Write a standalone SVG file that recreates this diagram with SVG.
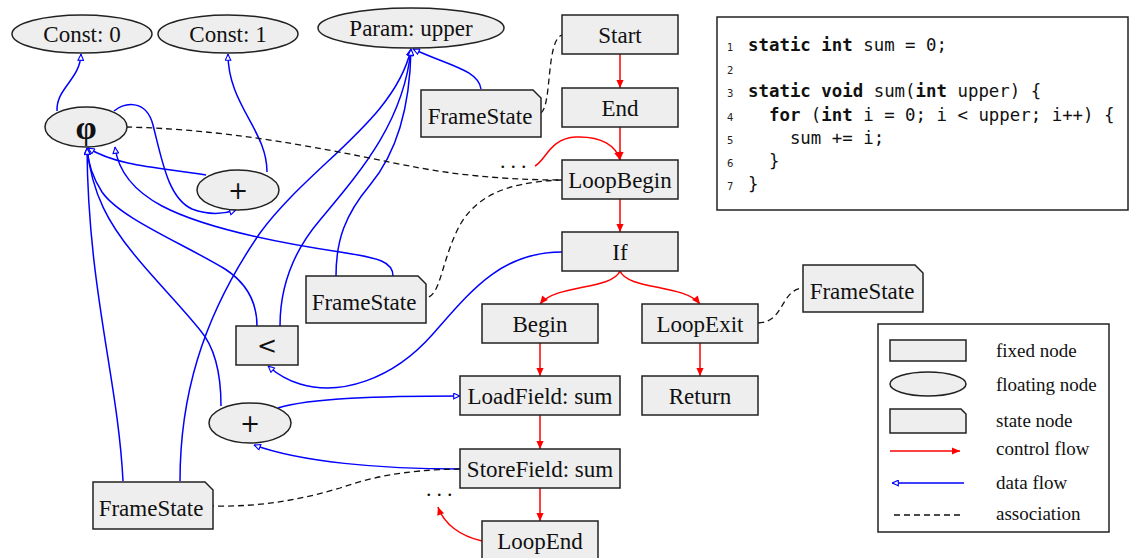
<svg xmlns="http://www.w3.org/2000/svg" width="1131" height="558" viewBox="0 0 1131 558">
<style>
.n{fill:#eeeeee;stroke:#222;stroke-width:1.5}
.t{font-family:"Liberation Serif","Times New Roman",serif;font-size:23px;fill:#111;text-anchor:middle}
.op{font-family:"DejaVu Sans","Liberation Sans",sans-serif;font-size:24px;fill:#111;text-anchor:middle}
.lt{font-family:"Liberation Serif","Times New Roman",serif;font-size:19px;fill:#111}
.c{fill:none;stroke:#ff0000;stroke-width:1.5;marker-end:url(#ctl)}
.d{fill:none;stroke:#0000ff;stroke-width:1.5;marker-end:url(#dat)}
.a{fill:none;stroke:#111;stroke-width:1.3;stroke-dasharray:6 4}
.code{font-family:"DejaVu Sans Mono","Liberation Mono",monospace;font-size:17.4px;fill:#111}
.ln{font-family:"DejaVu Sans",sans-serif;font-size:10px;fill:#222}
.k{font-weight:bold}
.dots{font-family:"Liberation Serif",serif;font-size:22px;fill:#111;letter-spacing:5px}
</style>
<defs>
<marker id="ctl" viewBox="0 0 10 10" refX="10" refY="5" markerWidth="9" markerHeight="8" orient="auto" markerUnits="userSpaceOnUse"><path d="M0,0.5 L10,5 L0,9.5 z" fill="#ff0000"/></marker>
<marker id="dat" viewBox="0 0 10 10" refX="10" refY="5" markerWidth="8" markerHeight="7" orient="auto" markerUnits="userSpaceOnUse"><path d="M1,1 L9.5,5 L1,9 z" fill="#fff" stroke="#0000ff" stroke-width="1.6"/></marker>
</defs>

<g id="connectors">
<!-- control flow -->
<path class="c" d="M620,54 L620,88"/>
<path class="c" d="M620,127 L620,160"/>
<path class="c" d="M620,199 L620,232"/>
<path class="c" d="M620,271 C612,290 556,284 540,304"/>
<path class="c" d="M620,271 C628,290 684,284 700,304"/>
<path class="c" d="M540,343 L540,376"/>
<path class="c" d="M700,343 L700,376"/>
<path class="c" d="M540,415 L540,449"/>
<path class="c" d="M540,488 L540,521"/>
<path class="c" d="M535,166 C546,160 550,138 576,137 C602,136 616,146 620,160"/>
<path class="c" d="M482,541 C460,536 444,524 438,507"/>
<!-- data flow -->
<path class="d" d="M57,111 C56,88 80,80 81,54"/>
<path class="d" d="M267,172 C267,130 228,105 228,54"/>
<path class="d" d="M114,111 C124,103 146,98 153,125 C162,160 168,198 192,209 C208,215 224,214 236,210"/>
<path class="d" d="M206,175 C170,168 120,168 88,148"/>
<path class="d" d="M123,481 C118,380 88,290 87,148"/>
<path class="d" d="M221,406 C221,370 213,345 200,330 C180,305 152,277 133,253 C110,225 92,195 87,148"/>
<path class="d" d="M257,326 C257,300 245,282 225,269 C180,242 120,218 102,192 C93,178 88,165 87,148"/>
<path class="d" d="M393,276 C393,262 380,258 340,252 C260,240 200,226 162,206 C132,190 118,170 115,147"/>
<path class="d" d="M180,481 C180,400 200,320 260,233 C310,165 395,120 411,49"/>
<path class="d" d="M280,326 C280,290 290,255 320,220 C360,172 404,122 411,49"/>
<path class="d" d="M336,276 C336,240 345,215 370,185 C395,155 410,110 411,49"/>
<path class="d" d="M481,89 C478,70 450,66 413,49"/>
<path class="d" d="M562,252 C500,252 470,292 432,335 C392,380 340,396 300,384 C286,380 276,373 268,366"/>
<path class="d" d="M278,408 C310,398 380,396 460,396"/>
<path class="d" d="M460,469 C380,469 300,462 254,445"/>
<!-- associations -->
<path class="a" d="M541,113 C552,105 546,40 562,35"/>
<path class="a" d="M126,127 C250,130 350,155 420,168 C470,177 520,180 562,180"/>
<path class="a" d="M562,180 C500,182 470,200 455,235 C440,270 440,295 426,298"/>
<path class="a" d="M758,323 C785,322 780,290 803,288"/>
<path class="a" d="M460,469 C400,470 370,478 340,488 C300,500 260,507 213,506"/>
</g>

<text class="dots" x="500" y="168">...</text>
<text class="dots" x="426" y="496">...</text>

<g id="const0"><ellipse class="n" cx="82" cy="34" rx="70" ry="19"/><text class="t" x="82" y="42">Const: 0</text></g>
<g id="const1"><ellipse class="n" cx="228" cy="34" rx="70" ry="19"/><text class="t" x="228" y="42">Const: 1</text></g>
<g id="param"><ellipse class="n" cx="411" cy="28" rx="93" ry="20"/><text class="t" x="411" y="36">Param: upper</text></g>
<g id="phi"><ellipse class="n" cx="86" cy="127" rx="41" ry="20"/><text class="t" x="86" y="139" style="font-size:34px;font-weight:bold">φ</text></g>
<g id="add1"><ellipse class="n" cx="238" cy="190" rx="41" ry="20"/><text class="op" x="238" y="199">+</text></g>
<g id="add2"><ellipse class="n" cx="250" cy="423" rx="41" ry="20"/><text class="op" x="250" y="432">+</text></g>
<g id="lt"><rect class="n" x="236" y="326" width="62" height="39"/><text class="op" x="267" y="354">&lt;</text></g>

<g id="start"><rect class="n" x="562" y="15" width="116" height="39"/><text class="t" x="620" y="43">Start</text></g>
<g id="end"><rect class="n" x="562" y="88" width="116" height="39"/><text class="t" x="620" y="116">End</text></g>
<g id="loopbegin"><rect class="n" x="562" y="160" width="116" height="39"/><text class="t" x="620" y="188">LoopBegin</text></g>
<g id="if"><rect class="n" x="562" y="232" width="116" height="39"/><text class="t" x="620" y="260">If</text></g>
<g id="begin"><rect class="n" x="482" y="304" width="116" height="39"/><text class="t" x="540" y="332">Begin</text></g>
<g id="loopexit"><rect class="n" x="642" y="304" width="116" height="39"/><text class="t" x="700" y="332">LoopExit</text></g>
<g id="loadfield"><rect class="n" x="460" y="376" width="160" height="39"/><text class="t" x="540" y="404">LoadField: sum</text></g>
<g id="return"><rect class="n" x="642" y="376" width="116" height="39"/><text class="t" x="700" y="404">Return</text></g>
<g id="storefield"><rect class="n" x="460" y="449" width="160" height="39"/><text class="t" x="540" y="477">StoreField: sum</text></g>
<g id="loopend"><rect class="n" x="482" y="521" width="116" height="40"/><text class="t" x="540" y="549">LoopEnd</text></g>

<g id="fs_top"><path class="n" d="M421,90 L533,90 L541,98 L541,137 L421,137 z"/><text class="t" x="480" y="124">FrameState</text></g>
<g id="fs_mid"><path class="n" d="M306,276 L418,276 L426,284 L426,323 L306,323 z"/><text class="t" x="364" y="310">FrameState</text></g>
<g id="fs_bot"><path class="n" d="M93,482 L205,482 L213,490 L213,529 L93,529 z"/><text class="t" x="151" y="516">FrameState</text></g>
<g id="fs_right"><path class="n" d="M803,265 L915,265 L923,273 L923,312 L803,312 z"/><text class="t" x="862" y="299">FrameState</text></g>

<g id="code">
<rect x="717" y="17" width="411" height="193" fill="#fff" stroke="#222" stroke-width="1.5"/>
<text class="ln" x="727" y="51">1</text>
<text class="ln" x="727" y="74">2</text>
<text class="ln" x="727" y="97">3</text>
<text class="ln" x="727" y="121">4</text>
<text class="ln" x="727" y="144">5</text>
<text class="ln" x="727" y="167">6</text>
<text class="ln" x="727" y="190">7</text>
<text class="code" x="748" y="51" xml:space="preserve"><tspan class="k">static</tspan> <tspan class="k">int</tspan> sum = 0;</text>
<text class="code" x="748" y="97" xml:space="preserve"><tspan class="k">static</tspan> <tspan class="k">void</tspan> sum(<tspan class="k">int</tspan> upper) {</text>
<text class="code" x="748" y="121" xml:space="preserve">  <tspan class="k">for</tspan> (<tspan class="k">int</tspan> i = 0; i &lt; upper; i++) {</text>
<text class="code" x="748" y="144" xml:space="preserve">    sum += i;</text>
<text class="code" x="748" y="167" xml:space="preserve">  }</text>
<text class="code" x="748" y="190" xml:space="preserve">}</text>
</g>

<g id="legend">
<rect x="878" y="324" width="231" height="208" fill="#fff" stroke="#222" stroke-width="1.5"/>
<rect class="n" x="890" y="340" width="76" height="21"/>
<ellipse class="n" cx="928" cy="384" rx="38" ry="12"/>
<path class="n" d="M890,409 L961,409 L966,414 L966,433 L890,433 z"/>
<path class="c" d="M890,451 L960,451"/>
<path class="d" d="M964,483 L892,483"/>
<path class="a" d="M894,515 L961,515"/>
<text class="lt" x="996" y="357">fixed node</text>
<text class="lt" x="996" y="391">floating node</text>
<text class="lt" x="996" y="427">state node</text>
<text class="lt" x="996" y="455">control flow</text>
<text class="lt" x="996" y="489">data flow</text>
<text class="lt" x="996" y="520">association</text>
</g>
</svg>
